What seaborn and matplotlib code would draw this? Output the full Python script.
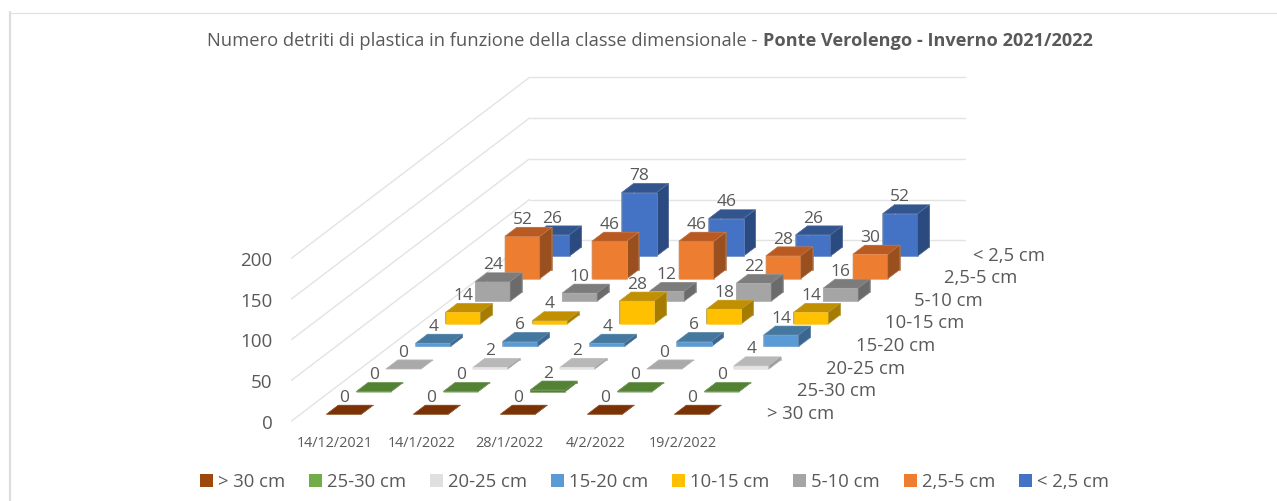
import numpy as np
import matplotlib
matplotlib.use("Agg")
import matplotlib.pyplot as plt
from matplotlib.lines import Line2D
from matplotlib.patches import Patch
from matplotlib.colors import to_rgb
from mpl_toolkits.mplot3d import Axes3D, proj3d  # noqa: F401
import seaborn as sns

# ---------- data ----------
dates = ["14/12/2021", "14/1/2022", "28/1/2022", "4/2/2022", "19/2/2022"]
classes = ["> 30 cm", "25-30 cm", "20-25 cm", "15-20 cm", "10-15 cm", "5-10 cm", "2,5-5 cm", "< 2,5 cm"]
over_30 = [0, 0, 0, 0, 0]
c25_30 = [0, 0, 2, 0, 0]
c20_25 = [0, 2, 2, 0, 4]
c15_20 = [4, 6, 4, 6, 14]
c10_15 = [14, 4, 28, 18, 14]
c5_10 = [24, 10, 12, 22, 16]
c2_5 = [52, 46, 46, 28, 30]
under_2_5 = [26, 78, 46, 26, 52]
z_ticks = [0, 50, 100, 150, 200]

series = [over_30, c25_30, c20_25, c15_20, c10_15, c5_10, c2_5, under_2_5]

# ---------- style ----------
sns.set_theme(style="white")
plt.rcParams["font.family"] = ["Open Sans", "DejaVu Sans"]
TXT = "#595959"
GRID = "#E3E3E3"
front = sns.color_palette(["#843C0C", "#548235", "#E4E4E4", "#5B9BD5", "#FFC000", "#A5A5A5", "#ED7D31", "#4472C4"])
top = sns.color_palette(["#7A3205", "#548235", "#B8B8B8", "#44789F", "#C09000", "#7C7C7C", "#B85A22", "#33558F"])
side = sns.color_palette(["#6B2C05", "#466E2C", "#9E9E9E", "#3A6690", "#A67C00", "#6B6B6B", "#9A4F1E", "#2A4A80"])
legend_cols = sns.color_palette(["#9E480E", "#70AD47", "#E0E0E0", "#5B9BD5", "#FFC000", "#A5A5A5", "#ED7D31", "#4472C4"])

W, H = 1277, 501
fig = plt.figure(figsize=(W / 100, H / 100), dpi=100, facecolor="white")
ax = fig.add_axes([0, 0, 1, 1], projection="3d", proj_type="ortho", computed_zorder=False)
ax.set_axis_off()
ax.apply_aspect = lambda position=None: None

# Oblique projection of the chart's box (the Excel 3-D column look)
ORIGIN = (291.5, 421.0)
PX_X, PX_YX, PX_YY, PX_Z = 87.0, 29.75, 22.6, 0.814
xa, xb = ax.viewLim.intervalx
ya, yb = ax.viewLim.intervaly
sx = (xb - xa) / W
sy = (yb - ya) / H
M = np.array([
    [PX_X * sx, PX_YX * sx, 0.0, xa + ORIGIN[0] * sx],
    [0.0, PX_YY * sy, PX_Z * sy, ya + (H - ORIGIN[1]) * sy],
    [-1.0, 1.0, -0.01, 0.0],
    [0.0, 0.0, 0.0, 1.0],
])
ax.get_proj = lambda: M


def label3d(x, y, z, s, **kw):
    """Place a text at a 3-D data position, through the axes' projection."""
    tx, ty, _ = proj3d.proj_transform(x, y, z, M)
    return ax.text2D(tx, ty, s, transform=ax.transData, color=TXT, zorder=200, **kw)


n_cols, n_rows = len(dates), len(classes)

# walls
for z in z_ticks:
    ax.plot([0, 0], [0, n_rows], [z, z], color=GRID, lw=1.0, zorder=1)
    ax.plot([0, n_cols], [n_rows, n_rows], [z, z], color=GRID, lw=1.0, zorder=1)
    label3d(-0.22, 0, z - 3.5, str(z), ha="right", va="center", fontsize=13.5)

# bars, back row first
BW = 0.4
def mix(c, t=0.25):
    return tuple(np.array(to_rgb(c)) * (1 - t) + t)

zo = 2
for j in range(n_rows - 1, -1, -1):
    for i in range(n_cols):
        top_c = "#A9A9A9" if (classes[j] == "20-25 cm" and series[j][i] == 0) else top[j]
        faces = [top_c, top_c, front[j], side[j], side[j], side[j]]
        edges = [mix(c) for c in faces]
        ax.bar3d(i + 0.3, j + 0.3, 0, BW, BW, series[j][i], color=faces, shade=False,
                 edgecolor=edges, linewidth=0.4, zorder=zo)
        zo += 1

# value labels
for j in range(n_rows):
    for i in range(n_cols):
        label3d(i + 0.5, j + 0.3, series[j][i] + 20.0, str(series[j][i]), ha="center", va="center", fontsize=12.5)

# depth axis labels
for j, lab in enumerate(classes):
    label3d(n_cols + 0.295 - 0.003 * j, j + 0.5, -5.0, lab, ha="left", va="center", fontsize=13.3)

# date labels
for i, lab in enumerate(dates):
    label3d(i + 0.5, 0, -28.0, lab, ha="center", va="center", fontsize=10.4)

# title
fig.text(207 / W, 1 - 41 / H, "Numero detriti di plastica in funzione della classe dimensionale - ",
         ha="left", va="center", fontsize=13.2, color=TXT)
fig.text(763 / W, 1 - 41 / H, "Ponte Verolengo - Inverno 2021/2022",
         ha="left", va="center", fontsize=13.05, fontweight="bold", color=TXT)

# frame of the chart area (top and left only in the crop)
fig.add_artist(Line2D([10 / W, 10 / W], [0, 1 - 12 / H], color="#DDDDDD", lw=1.6, transform=fig.transFigure))
fig.add_artist(Line2D([9 / W, 1], [1 - 12.5 / H, 1 - 12.5 / H], color="#E2E2E2", lw=0.9, transform=fig.transFigure))

# legend
handles = [Patch(facecolor=c, edgecolor="none", label=l) for c, l in zip(legend_cols, classes)]
fig.legend(handles=handles, ncol=8, loc="center", bbox_to_anchor=(654.5 / W, 1 - 482 / H), frameon=False,
           fontsize=13.3, labelcolor=TXT, handlelength=0.7, handleheight=0.7, handletextpad=0.25,
           columnspacing=1.32, borderpad=0)

fig.savefig("out.png", dpi=100, facecolor="white")
